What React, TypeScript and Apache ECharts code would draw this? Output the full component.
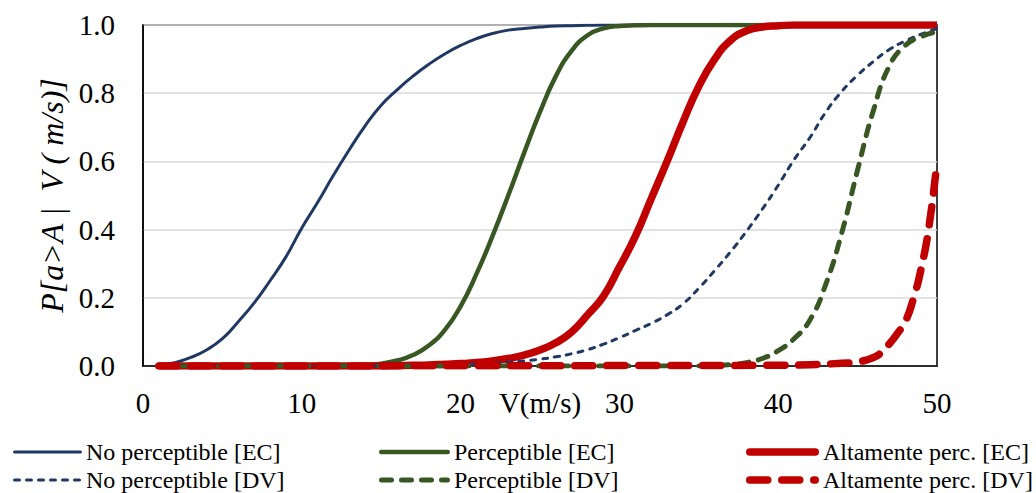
import React, { useEffect, useRef } from 'react';
import * as echarts from 'echarts';

// Wind speed V (m/s)
const V = [1, 2, 3, 4, 5, 6, 7, 8, 9, 10, 11, 12, 13, 14, 15, 16, 17, 18, 19, 20, 21, 22, 23, 24, 25, 26, 27, 28, 29, 30, 31, 32, 33, 34, 35, 36, 37, 38, 39, 40, 41, 42, 43, 44, 45, 46, 47, 48, 49, 50];

const noPercEC = [0.002, 0.01, 0.025, 0.047, 0.08, 0.13, 0.185, 0.25, 0.32, 0.405, 0.48, 0.56, 0.635, 0.705, 0.765, 0.81, 0.85, 0.885, 0.915, 0.94, 0.96, 0.975, 0.985, 0.99, 0.994, 0.997, 0.998, 0.999, 1, 1, 1, 1, 1, 1, 1, 1, 1, 1, 1, 1, 1, 1, 1, 1, 1, 1, 1, 1, 1, 1];
const percEC = [0, 0, 0, 0, 0, 0, 0, 0, 0, 0, 0, 0, 0.001, 0.003, 0.007, 0.016, 0.032, 0.06, 0.105, 0.175, 0.27, 0.38, 0.5, 0.625, 0.745, 0.85, 0.925, 0.97, 0.99, 0.997, 0.999, 1, 1, 1, 1, 1, 1, 1, 1, 1, 1, 1, 1, 1, 1, 1, 1, 1, 1, 1];
const altEC = [0, 0, 0, 0, 0, 0, 0, 0, 0, 0, 0, 0, 0, 0, 0, 0.001, 0.002, 0.003, 0.005, 0.007, 0.01, 0.015, 0.022, 0.032, 0.047, 0.068, 0.1, 0.15, 0.205, 0.29, 0.38, 0.49, 0.6, 0.715, 0.82, 0.9, 0.955, 0.983, 0.994, 0.998, 1, 1, 1, 1, 1, 1, 1, 1, 1, 1];
const noPercDV = [0, 0, 0, 0, 0, 0, 0, 0, 0, 0, 0, 0, 0, 0, 0, 0, 0, 0.001, 0.002, 0.003, 0.005, 0.008, 0.011, 0.015, 0.02, 0.027, 0.036, 0.048, 0.064, 0.083, 0.104, 0.125, 0.15, 0.182, 0.228, 0.28, 0.335, 0.395, 0.46, 0.53, 0.605, 0.67, 0.745, 0.805, 0.853, 0.893, 0.928, 0.953, 0.973, 0.989];
const percDV = [0, 0, 0, 0, 0, 0, 0, 0, 0, 0, 0, 0, 0, 0, 0, 0, 0, 0, 0, 0, 0, 0, 0, 0, 0, 0, 0, 0, 0, 0, 0, 0, 0, 0, 0, 0.002, 0.004, 0.01, 0.022, 0.045, 0.08, 0.135, 0.24, 0.39, 0.575, 0.75, 0.88, 0.94, 0.966, 0.98];
// Altamente perc. [DV] is read on a finer grid near its steep end
const V_altDV = [1, 40, 42, 44, 45, 46, 46.5, 47, 47.5, 48, 48.5, 49, 49.5, 50];
const altDV = [0, 0.002, 0.004, 0.008, 0.012, 0.025, 0.04, 0.065, 0.095, 0.13, 0.195, 0.285, 0.41, 0.6];

const xTicks = [0, 10, 20, 30, 40, 50];
const yTicks = [0, 0.2, 0.4, 0.6, 0.8, 1.0];

const names = [
  'No perceptible [EC]', 'Perceptible [EC]', 'Altamente perc. [EC]',
  'No perceptible [DV]', 'Perceptible [DV]', 'Altamente perc. [DV]',
];
const xs = [V, V, V, V, V, V_altDV];
const ys = [noPercEC, percEC, altEC, noPercDV, percDV, altDV];

const BLUE = '#203864';
const GREEN = '#385723';
const RED = '#C00000';
const colors = [BLUE, GREEN, RED, BLUE, GREEN, RED];
const widths = [3, 4.5, 7.5, 3, 5, 7.5];
const dashes: (number[] | null)[] = [null, null, null, [5, 7], [10, 10], [18, 14]];

const FONT = 'Liberation Serif';

export default function App() {
  const ref = useRef<HTMLDivElement>(null);
  useEffect(() => {
    if (!ref.current) return;
    const chart = echarts.init(ref.current, null, { renderer: 'svg' });

    const series = names.map((n, i) => ({
      name: n,
      type: 'line',
      data: xs[i].map((x, j) => [x, ys[i][j]]),
      symbol: 'none',
      smooth: 0.5,
      lineStyle: {
        color: colors[i],
        width: widths[i],
        type: dashes[i] ? dashes[i] : 'solid',
        cap: dashes[i] ? 'round' : 'butt',
        join: 'round',
      },
      itemStyle: { color: colors[i] },
      z: 2 + i,
    }));

    // legend drawn as graphics: three columns, two rows
    const colLineX = [13, 379, 746];
    const colLineLen = [69, 71, 73];
    const rowY = [452, 480];
    const graphic: any[] = [];
    names.forEach((n, i) => {
      const col = i % 3;
      const row = Math.floor(i / 3);
      const x1 = colLineX[col];
      const x2 = x1 + colLineLen[col];
      const y = rowY[row];
      graphic.push({
        type: 'line',
        shape: { x1: x1 + widths[i] / 2, y1: y, x2: x2 - widths[i] / 2, y2: y },
        style: {
          stroke: colors[i],
          lineWidth: widths[i],
          lineDash: dashes[i] ? dashes[i] : null,
          lineCap: 'round',
        },
      });
      graphic.push({
        type: 'text',
        x: x2 + 4,
        y: y,
        style: {
          text: n,
          fill: '#000',
          fontSize: 24,
          fontFamily: FONT,
          verticalAlign: 'middle',
          align: 'left',
        },
      });
    });

    chart.setOption({
      animation: false,
      backgroundColor: '#fff',
      textStyle: { fontFamily: FONT },
      grid: {
        left: 143,
        right: 99,
        top: 25,
        bottom: 127,
        show: true,
        borderColor: '#000',
        borderWidth: 1.5,
        backgroundColor: 'transparent',
      },
      xAxis: {
        type: 'value',
        min: xTicks[0],
        max: xTicks[xTicks.length - 1],
        interval: 10,
        name: 'V(m/s)',
        nameLocation: 'middle',
        nameGap: 22,
        nameMoveOverlap: false,
        nameTextStyle: { fontSize: 29, fontFamily: FONT, color: '#000', verticalAlign: 'top' },
        axisLine: { show: true, onZero: false, lineStyle: { color: '#000', width: 1.5 } },
        axisTick: { show: false },
        splitLine: { show: false },
        axisLabel: { fontSize: 29, fontFamily: FONT, color: '#000', margin: 22 },
      },
      yAxis: {
        type: 'value',
        min: yTicks[0],
        max: yTicks[yTicks.length - 1],
        interval: 0.2,
        name: 'P[a>A |  V ( m/s)]',
        nameLocation: 'middle',
        nameGap: 75,
        nameMoveOverlap: false,
        nameTextStyle: { fontSize: 32, fontFamily: FONT, color: '#000', fontStyle: 'italic', verticalAlign: 'bottom' },
        axisLine: { show: true, lineStyle: { color: '#000', width: 1.5 } },
        axisTick: { show: false },
        splitLine: { show: true, lineStyle: { color: '#d9d9d9', width: 1.5 } },
        axisLabel: {
          fontSize: 29,
          fontFamily: FONT,
          color: '#000',
          margin: 28,
          formatter: (v: number) => v.toFixed(1),
        },
      },
      series,
      graphic,
    });
    return () => chart.dispose();
  }, []);
  return (
    <div
      ref={ref}
      style={{ position: 'fixed', left: 0, top: 0, width: 1036, height: 493, background: '#fff' }}
    />
  );
}
